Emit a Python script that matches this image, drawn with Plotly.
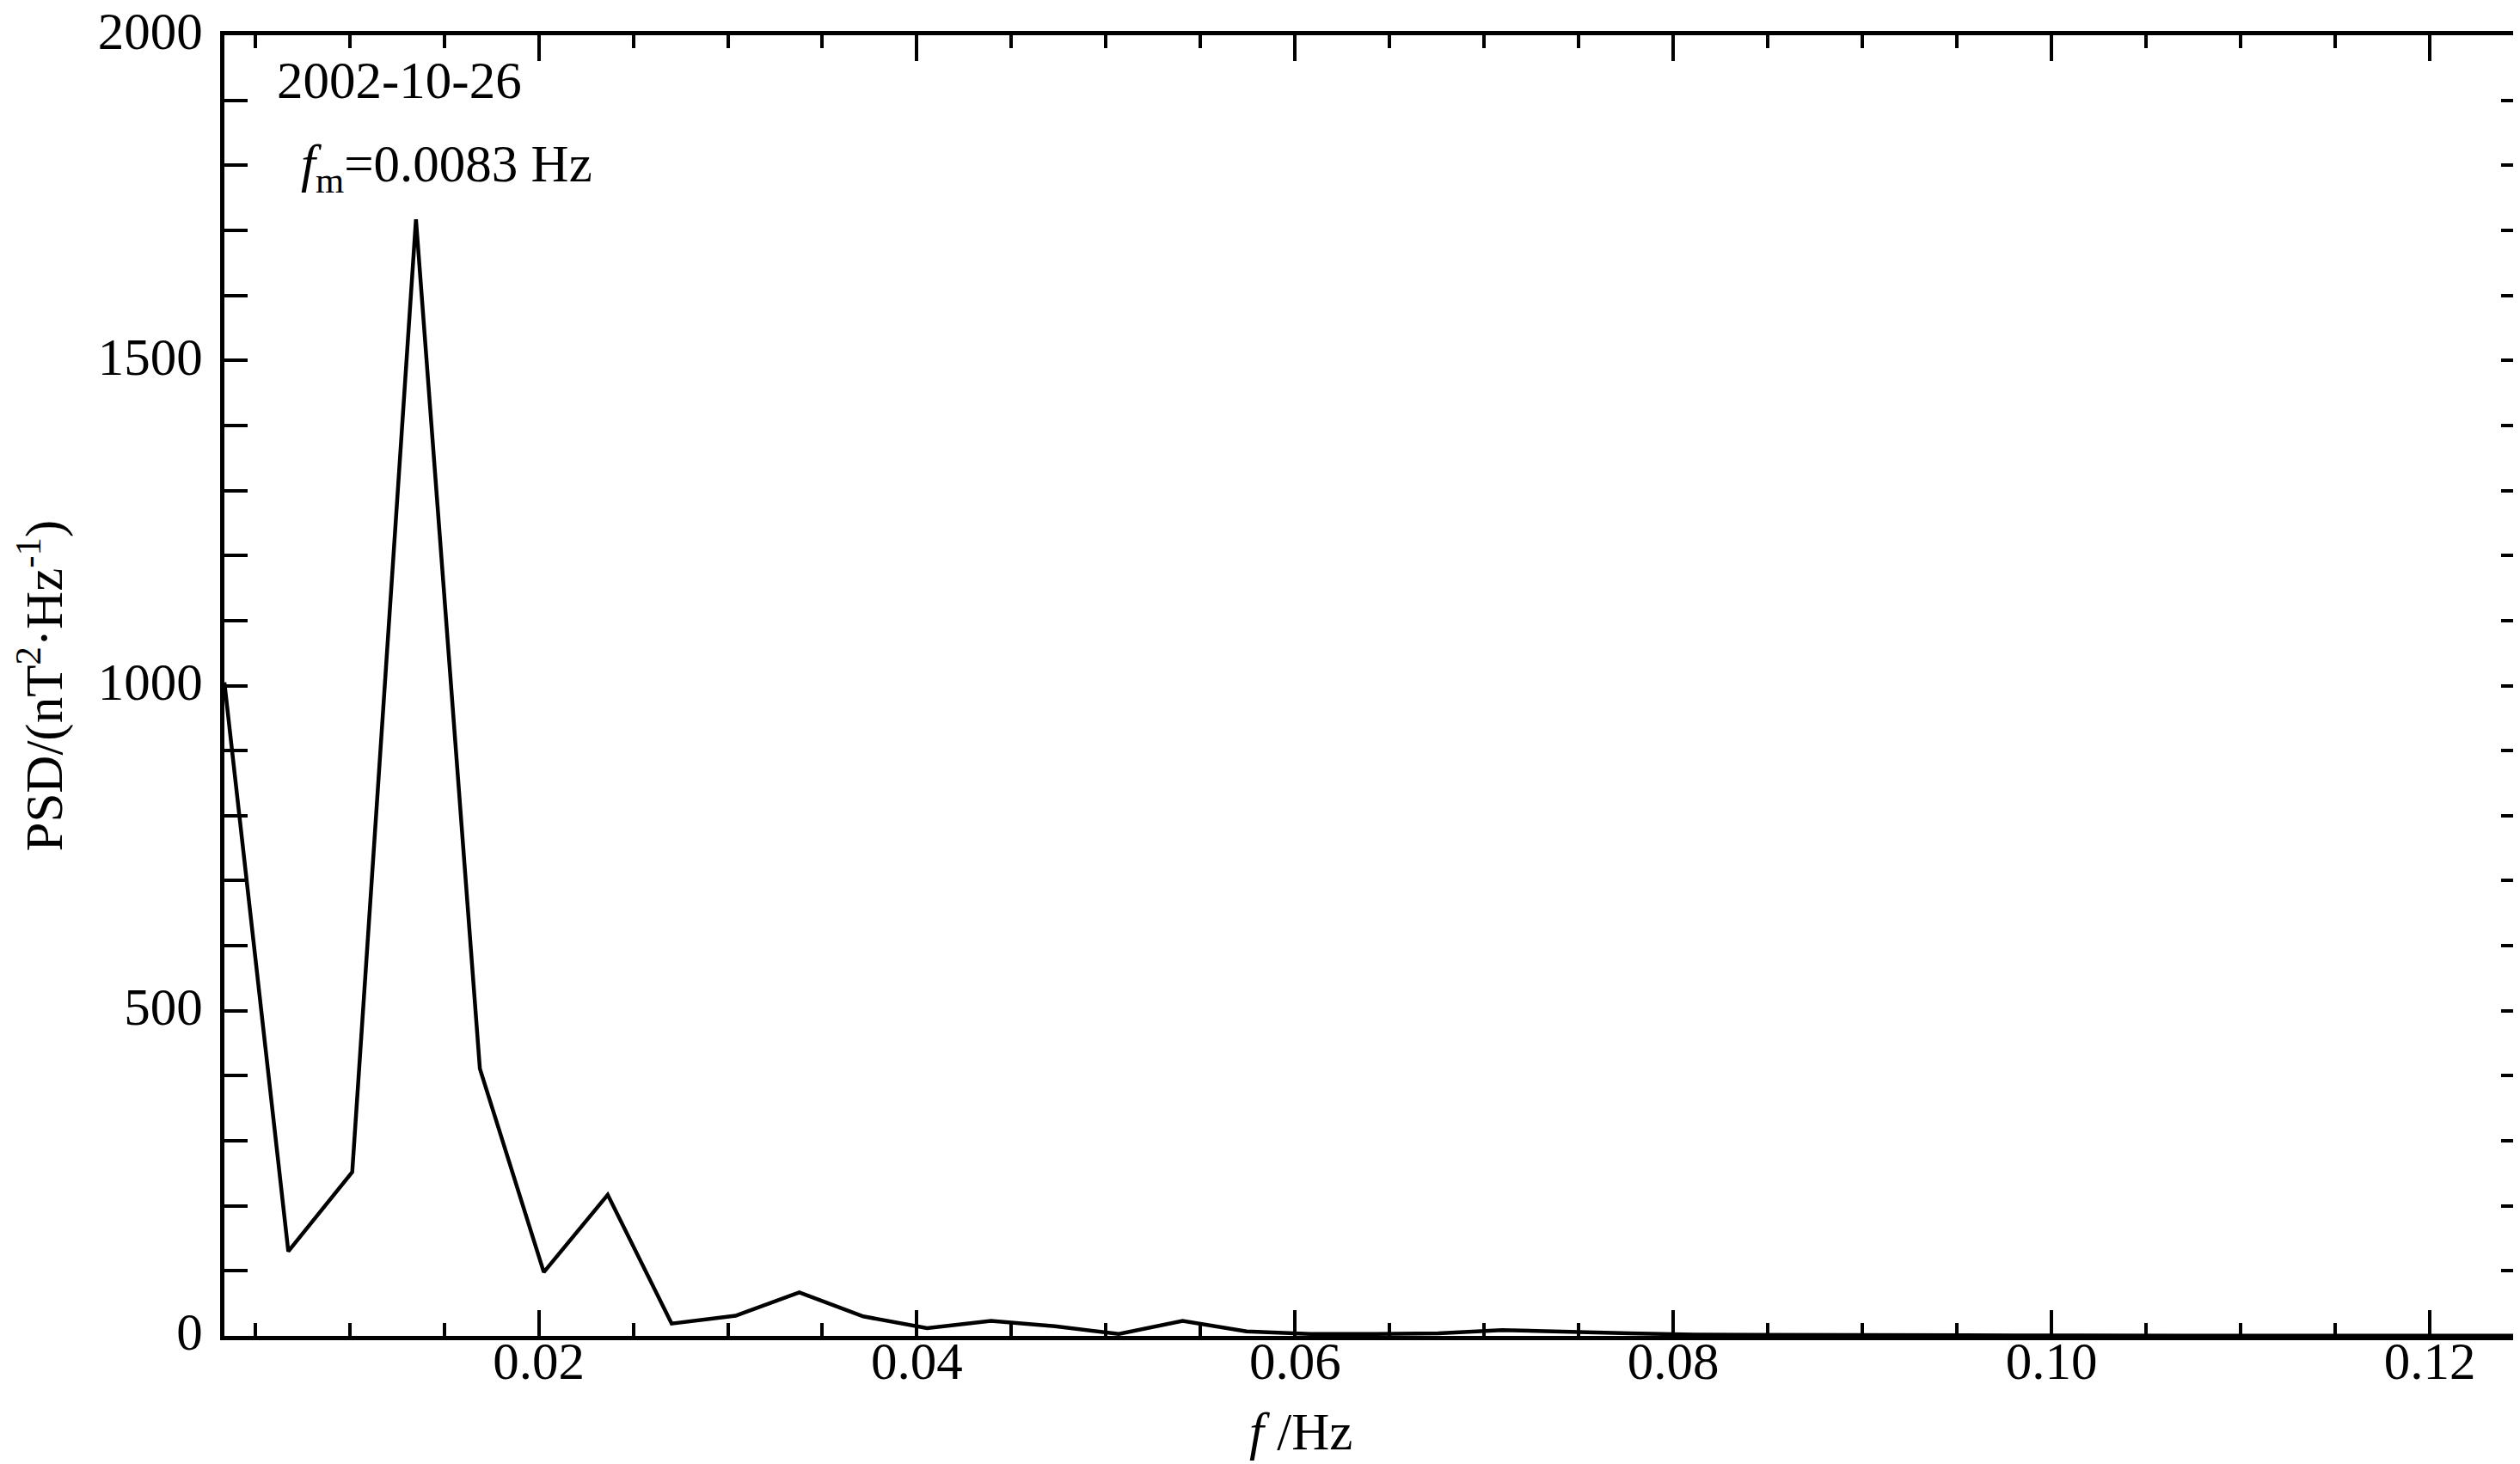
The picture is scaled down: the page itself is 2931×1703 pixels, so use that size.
"""Power spectral density of the 2002-10-26 event."""

import plotly.graph_objects as go

# frequency bins (Hz) and PSD values (nT^2/Hz)
freq = [
    0.00338, 0.00676, 0.01014, 0.01351, 0.01689, 0.02027, 0.02365, 0.02703,
    0.03041, 0.03378, 0.03716, 0.04054, 0.04392, 0.04730, 0.05068, 0.05405,
    0.05743, 0.06081, 0.06419, 0.06757, 0.07095, 0.07432, 0.07770, 0.08108,
    0.08446, 0.08784, 0.09122, 0.09459, 0.09797, 0.10135, 0.10473, 0.10811,
    0.11149, 0.11486, 0.11824, 0.12162, 0.12500,
]
psd = [
    1005, 130, 252, 1717, 411, 98, 217, 19,
    31, 67, 30, 12, 23, 15, 3, 23,
    7, 3, 3, 4, 9, 6, 4, 2,
    1.5, 1, 1, 0.5, 0.8, 0.5, 0.5, 1,
    0.6, 0.5, 0.8, 0.4, 0.3,
]

date_label = "2002-10-26"
peak_label = "<i>f</i><sub>m</sub>=0.0083 Hz"
x_title = "<i>f</i> /Hz"
y_title = "PSD/(nT<sup>2</sup>·Hz<sup>-1</sup>)"

FONT = "Liberation Serif, Times New Roman, serif"
SIZE = 61

fig = go.Figure()
fig.add_scatter(
    x=freq,
    y=psd,
    mode="lines",
    line=dict(color="black", width=4.5),
    showlegend=False,
)

axis_common = dict(
    showline=True,
    linecolor="black",
    linewidth=5,
    mirror="ticks",
    ticks="inside",
    tickcolor="black",
    tickwidth=3.5,
    showgrid=False,
    zeroline=False,
    automargin=False,
    tickfont=dict(family=FONT, size=SIZE, color="black"),
)

fig.update_xaxes(
    range=[0.00338, 0.125],
    tick0=0,
    dtick=0.02,
    tickformat=".2f",
    ticklen=30,
    ticklabelstandoff=-28,
    minor=dict(dtick=0.005, tick0=0, ticklen=15, tickwidth=3.5,
               tickcolor="black", ticks="inside"),
    **axis_common,
)
fig.update_yaxes(
    range=[0, 2000],
    tick0=0,
    dtick=500,
    ticklen=27,
    ticklabelstandoff=8,
    ticklabelshift=-5,
    ticklabeloverflow="allow",
    minor=dict(dtick=100, tick0=0, ticklen=27, tickwidth=3.5,
               tickcolor="black", ticks="inside"),
    **axis_common,
)

text_font = dict(family=FONT, size=SIZE, color="black")
fig.add_annotation(text=date_label, xref="paper", yref="paper",
                   x=0.022, y=0.965, xanchor="left", yanchor="middle",
                   showarrow=False, font=text_font)
fig.add_annotation(text=peak_label, xref="paper", yref="paper",
                   x=0.0325, y=0.8985, xanchor="left", yanchor="middle",
                   showarrow=False, font=text_font)
fig.add_annotation(text=x_title, xref="paper", yref="paper",
                   x=0.468, y=-0.0735, xanchor="center", yanchor="middle",
                   showarrow=False, font=text_font)
fig.add_annotation(text=y_title, xref="paper", yref="paper",
                   x=-0.080, y=0.5, xanchor="center", yanchor="middle",
                   textangle=-90, showarrow=False, font=text_font)

fig.update_layout(
    width=2931,
    height=1703,
    margin=dict(l=253, r=3, t=33, b=157),
    paper_bgcolor="white",
    plot_bgcolor="white",
)

fig.write_html("out.html")
